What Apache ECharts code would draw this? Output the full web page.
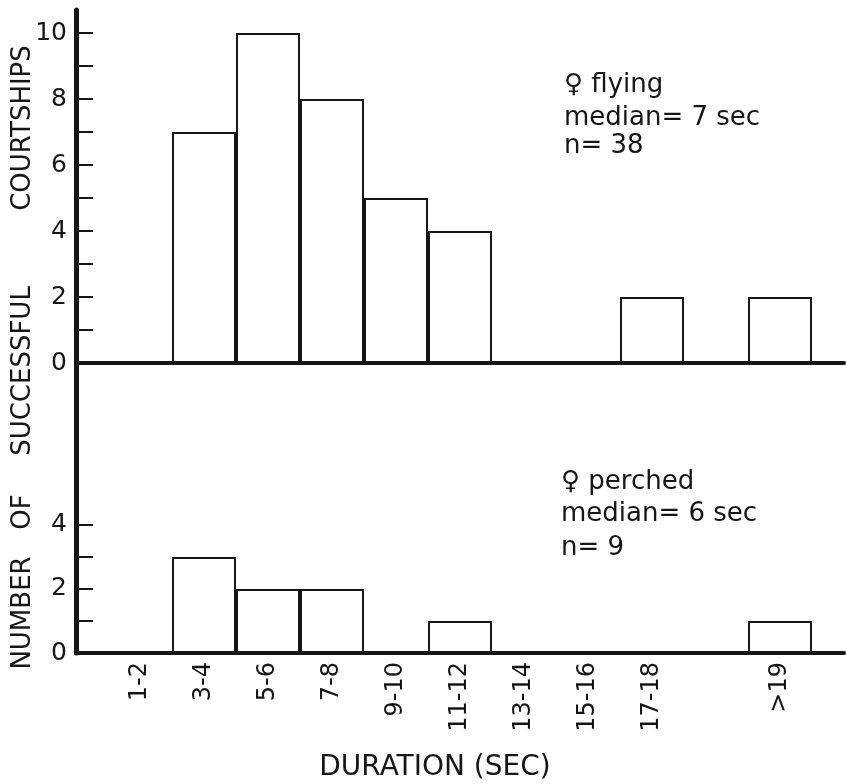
<!DOCTYPE html>
<html lang="en">

<head>
  <meta charset="UTF-8">
  <title>Courtship duration</title>
  <style>
    html, body {
      margin: 0;
      padding: 0;
      background: #fff;
    }

    #chart {
      width: 846px;
      height: 784px;
    }
  </style>
</head>

<body>
  <div id="chart"></div>

  <script src="https://cdn.jsdelivr.net/npm/echarts@6/dist/echarts.min.js"></script>
  <script>
    // duration classes (position 10 is an empty gap before >19)
    const categories = ['1-2', '3-4', '5-6', '7-8', '9-10', '11-12', '13-14', '15-16', '17-18', '', '>19'];
    const flyingCounts = [0, 7, 10, 8, 5, 4, 0, 0, 2, 0, 2];
    const perchedCounts = [0, 3, 2, 2, 0, 1, 0, 0, 0, 0, 1];
    const flyingTicks = [0, 1, 2, 3, 4, 5, 6, 7, 8, 9, 10];
    const flyingLabels = [0, 2, 4, 6, 8, 10];
    const perchedTicks = [0, 1, 2, 3, 4];
    const perchedLabels = [0, 2, 4];
    const flyingNote = ['♀ flying', 'median= 7 sec', 'n= 38'];
    const perchedNote = ['♀ perched', 'median= 6 sec', 'n= 9'];
    const yTitleWords = ['NUMBER', 'OF', 'SUCCESSFUL', 'COURTSHIPS'];

    const ink = '#161616';
    const font = 'DejaVu Sans';

    const toPoints = arr => arr.map((v, i) => [i + 1, v]);
    const catPositions = categories
      .map((c, i) => (c ? i + 1 : null))
      .filter(v => v !== null);

    const xAxisBase = {
      type: 'value',
      min: 0,
      max: 12,
      interval: 1,
      splitLine: { show: false },
      axisTick: { show: false },
      axisLine: { show: true, onZero: false, lineStyle: { color: ink, width: 4 } },
    };

    const yAxisBase = {
      type: 'value',
      min: 0,
      interval: 1,
      splitLine: { show: false },
      axisLine: { show: true, lineStyle: { color: ink, width: 5 } },
      axisTick: { show: true, inside: true, length: 17, lineStyle: { color: ink, width: 2 } },
      axisLabel: { color: ink, fontFamily: font, fontSize: 25, margin: 9 },
    };

    const noteText = (lines, x, tops) => lines.map((t, i) => ({
      type: 'text',
      left: x,
      top: tops[i],
      style: { text: t, fill: ink, font: '26px "' + font + '"' },
    }));

    // title words spread along the left edge, bottom to top
    const yTitleCenters = [613, 512, 371, 128];
    const yTitle = yTitleWords.map((w, i) => ({
      type: 'text',
      x: 23,
      y: yTitleCenters[i],
      rotation: Math.PI / 2,
      style: {
        text: w,
        fill: ink,
        font: '26px "' + font + '"',
        align: 'center',
        verticalAlign: 'middle',
      },
    }));

    const barStyle = { color: '#fff', borderColor: ink, borderWidth: 2 };

    const chart = echarts.init(document.getElementById('chart'), null, { renderer: 'canvas' });

    chart.setOption({
      animation: false,
      backgroundColor: '#fff',
      grid: [
        { left: 76, top: 10, width: 768, height: 353 },
        { left: 76, top: 363, width: 768, height: 290 },
      ],
      xAxis: [
        { ...xAxisBase, gridIndex: 0, axisLabel: { show: false } },
        {
          ...xAxisBase,
          gridIndex: 1,
          axisLabel: {
            show: true,
            customValues: catPositions,
            formatter: v => categories[v - 1] || '',
            rotate: 90,
            margin: 9,
            color: ink,
            fontFamily: font,
            fontSize: 24,
          },
        },
      ],
      yAxis: [
        {
          ...yAxisBase,
          gridIndex: 0,
          max: 10.7,
          axisTick: { ...yAxisBase.axisTick, customValues: flyingTicks },
          axisLabel: { ...yAxisBase.axisLabel, customValues: flyingLabels },
        },
        {
          ...yAxisBase,
          gridIndex: 1,
          max: 9.06,
          axisTick: { ...yAxisBase.axisTick, customValues: perchedTicks },
          axisLabel: { ...yAxisBase.axisLabel, customValues: perchedLabels },
        },
      ],
      series: [
        {
          type: 'bar',
          xAxisIndex: 0,
          yAxisIndex: 0,
          barWidth: 64,
          data: toPoints(flyingCounts),
          itemStyle: barStyle,
        },
        {
          type: 'bar',
          xAxisIndex: 1,
          yAxisIndex: 1,
          barWidth: 64,
          data: toPoints(perchedCounts),
          itemStyle: barStyle,
        },
      ],
      graphic: [
        ...yTitle,
        {
          type: 'text',
          x: 435,
          y: 768,
          style: {
            text: 'DURATION (SEC)',
            fill: ink,
            font: '28px "' + font + '"',
            align: 'center',
            verticalAlign: 'middle',
          },
        },
        ...noteText(flyingNote, 564, [72, 105, 133]),
        ...noteText(perchedNote, 561, [469, 501, 535]),
      ],
    });
  </script>
</body>

</html>
